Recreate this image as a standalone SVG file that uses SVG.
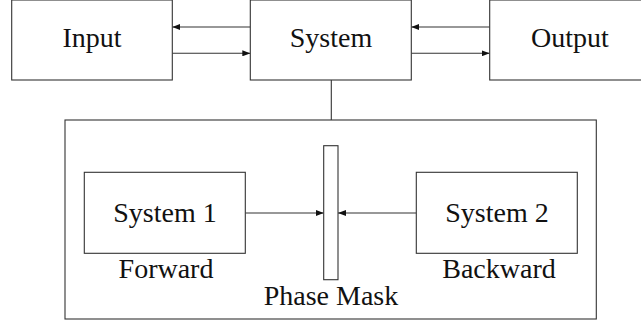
<svg xmlns="http://www.w3.org/2000/svg" width="641" height="322" viewBox="0 0 641 322">
  <style>
    .box { fill: #fff; stroke: #333; stroke-width: 1.1; }
    .lbl { font-family: "Liberation Serif", "DejaVu Serif", serif; font-size: 28px; fill: #111; text-anchor: middle; }
    .wire { fill: none; stroke: #333; stroke-width: 1.1; }
    .arr { fill: none; stroke: #333; stroke-width: 1.1; marker-end: url(#head); }
  </style>
  <defs>
    <marker id="head" viewBox="0 0 8 6" refX="8" refY="3" markerWidth="8" markerHeight="6" markerUnits="userSpaceOnUse" orient="auto">
      <path d="M0,0 L8,3 L0,6 Z" fill="#111"/>
    </marker>
  </defs>

  <rect id="rect-bg" x="0" y="0" width="641" height="322" fill="#fff"/>

  <!-- outer frame holding the two sub-systems -->
  <g id="container">
    <rect class="box" x="65" y="120" width="531.3" height="199"/>
  </g>

  <!-- connectors -->
  <g id="connectors">
    <line class="arr" x1="250.3" y1="27" x2="172.3" y2="27"/>
    <line class="arr" x1="172.3" y1="53.3" x2="250.3" y2="53.3"/>
    <line class="arr" x1="489.7" y1="27" x2="411.3" y2="27"/>
    <line class="arr" x1="411.3" y1="53.3" x2="489.7" y2="53.3"/>
    <line class="wire" x1="331.3" y1="80" x2="331.3" y2="120"/>
    <line class="arr" x1="245.3" y1="213" x2="323.7" y2="213"/>
    <line class="arr" x1="416.3" y1="213" x2="338" y2="213"/>
  </g>

  <g id="input">
    <rect class="box" x="11.7" y="0" width="160.6" height="80"/>
    <text class="lbl" x="92" y="47">Input</text>
  </g>

  <g id="system">
    <rect class="box" x="250.3" y="0" width="161" height="80"/>
    <text class="lbl" x="331" y="47">System</text>
  </g>

  <g id="output">
    <rect class="box" x="489.7" y="0" width="161" height="80"/>
    <text class="lbl" x="570" y="47">Output</text>
  </g>

  <g id="system1">
    <rect class="box" x="84.3" y="172.3" width="161" height="81"/>
    <text class="lbl" x="165" y="221.5">System 1</text>
    <text class="lbl" x="166" y="278.3">Forward</text>
  </g>

  <g id="system2">
    <rect class="box" x="416.3" y="172.3" width="161" height="81"/>
    <text class="lbl" x="497" y="221.5">System 2</text>
    <text class="lbl" x="499" y="278.3">Backward</text>
  </g>

  <g id="phase-mask">
    <rect class="box" x="323.7" y="145.7" width="14.3" height="134"/>
    <text class="lbl" x="331" y="305">Phase Mask</text>
  </g>
</svg>
